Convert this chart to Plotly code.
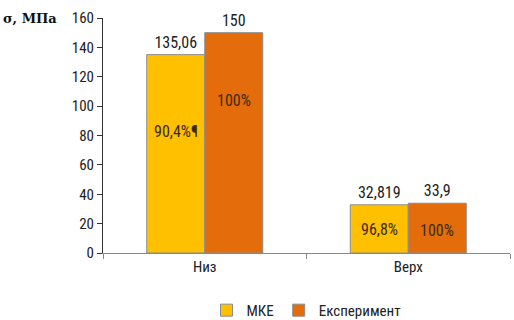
import plotly.graph_objects as go

categories = ["Низ", "Верх"]
mke_values = [135.06, 32.819]
exp_values = [150, 33.9]
mke_labels = ["135,06", "32,819"]
exp_labels = ["150", "33,9"]
mke_pct = ["90,4%¶", "96,8%"]
exp_pct = ["100%", "100%"]
series_names = ["МКЕ", "Експеримент"]
y_ticks = [0, 20, 40, 60, 80, 100, 120, 140, 160]

FONT = "Liberation Sans Narrow, Roboto Condensed, Open Sans, sans-serif"

fig = go.Figure()
fig.add_trace(go.Bar(
    x=categories, y=mke_values, name=series_names[0],
    marker=dict(color="#FFC000", line=dict(color="#8c8c8c", width=1)),
    text=mke_labels, textposition="outside", cliponaxis=False,
    textfont=dict(size=16, color="#222")))
fig.add_trace(go.Bar(
    x=categories, y=exp_values, name=series_names[1],
    marker=dict(color="#E46C0A", line=dict(color="#8c8c8c", width=1)),
    text=exp_labels, textposition="outside", cliponaxis=False,
    textfont=dict(size=16, color="#222")))

# percentage labels inside bars (heights as fraction of bar value)
mke_frac = [0.61, 0.48]
exp_frac = [0.69, 0.46]
for i, c in enumerate(categories):
    fig.add_annotation(x=c, y=mke_values[i] * mke_frac[i], text=mke_pct[i],
                       xref="x", yref="y", showarrow=False, xshift=-29,
                       font=dict(size=16, color="#3a2a10", family=FONT))
    fig.add_annotation(x=c, y=exp_values[i] * exp_frac[i], text=exp_pct[i],
                       xref="x", yref="y", showarrow=False, xshift=29,
                       font=dict(size=16, color="#3a2a10", family=FONT))

fig.add_annotation(x=-0.18, y=1.0, xref="paper", yref="paper", text="<b>σ, МПа</b>",
                   showarrow=False, xanchor="center", yanchor="middle",
                   font=dict(family="DejaVu Serif, Liberation Serif, serif", size=13, color="#111"))

fig.update_layout(
    width=514, height=320,
    margin=dict(l=103, r=4, t=18, b=67, autoexpand=False),
    paper_bgcolor="white", plot_bgcolor="white",
    barmode="group", bargap=0.43, bargroupgap=0,
    font=dict(family=FONT, size=15, color="#222"),
    showlegend=True,
    legend=dict(orientation="h", x=0.5, xanchor="center", yref="container",
                y=0.03, yanchor="middle", bgcolor="rgba(0,0,0,0)",
                font=dict(size=15, color="#222"), itemwidth=30,
                traceorder="normal"),
    xaxis=dict(showline=True, linecolor="#888", linewidth=1, ticks="outside",
               tickson="boundaries", ticklen=5, tickcolor="#888",
               showgrid=False, tickfont=dict(size=15)),
    yaxis=dict(range=[0, 160], tickvals=y_ticks, showline=True, linecolor="#333",
               linewidth=1, ticks="outside", ticklen=5, tickcolor="#333",
               showgrid=False, zeroline=False, tickfont=dict(size=15)),
)

fig.write_html("out.html")
